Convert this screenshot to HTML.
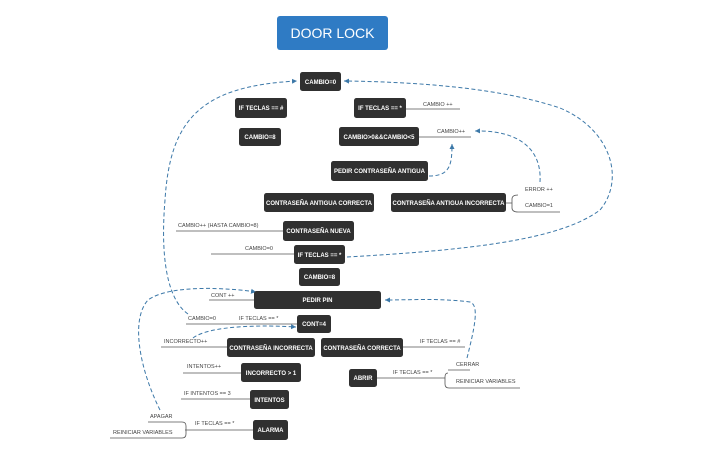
<!DOCTYPE html>
<html><head><meta charset="utf-8"><style>
html,body{margin:0;padding:0;background:#fff;}
svg{display:block;font-family:"Liberation Sans",sans-serif;}
.n{fill:#303030;}
.t{fill:#fff;font-size:6px;font-weight:bold;text-anchor:middle;}
.l{fill:#444;font-size:5.5px;}
.ln{stroke:#555;stroke-width:0.8;fill:none;}
.d{stroke:#3c78a8;stroke-width:1;fill:none;stroke-dasharray:4,2.5;}
</style></head><body>
<svg width="720" height="452" viewBox="0 0 720 452" xmlns="http://www.w3.org/2000/svg">
<defs><marker id="a" markerWidth="6" markerHeight="6" refX="5" refY="3" orient="auto"><path d="M0,0.5 L5,3 L0,5.5z" fill="#3c78a8"/></marker></defs>
<rect x="277" y="16" width="111" height="34" rx="3" fill="#2f7bc4"/>
<text x="332.5" y="38" fill="#fff" font-size="14" text-anchor="middle">DOOR LOCK</text>

<!-- lines -->
<path class="ln" d="M406,109 H460 M419,137 H471 M506,203 H512 M176,231 H283 M211,254 H294 M209,300 H254 M186,324 H297 M161,347 H227 M403,347 H465 M183,373 H241 M377,378 H445 M181,399 H250 M185,430 H253"/>
<path class="ln" d="M518,195 Q512,195 512,199 V208 Q512,212 518,212 H560 M512,203 H512"/>
<path class="ln" d="M448,370 H470 M448,373 Q445,373 445,377 V384 Q445,388 449,388 H520"/>
<path class="ln" d="M148,422 H182 Q186,422 186,426 V434 Q186,438 182,438 H110"/>

<!-- dashed -->
<path class="d" d="M188,314 C168,300 160,260 165,200 C170,120 200,86 297,81" marker-end="url(#a)"/>
<path class="d" d="M347,257 C470,250 560,240 600,210 C625,180 612,130 560,108 C500,88 420,82 344,81" marker-end="url(#a)"/>
<path class="d" d="M160,410 C140,370 130,320 148,300 C170,284 230,288 256,292" marker-end="url(#a)"/>
<path class="d" d="M193,338 C210,325 265,325 296,327" marker-end="url(#a)"/>
<path class="d" d="M467,358 C474,330 480,305 470,302 C440,298 410,300 385,300" marker-end="url(#a)"/>
<path class="d" d="M540,182 C542,150 520,130 475,131" marker-end="url(#a)"/>
<path class="d" d="M429,176 C450,176 452,165 452,144" marker-end="url(#a)"/>

<!-- nodes -->
<rect class="n" x="300" y="72" width="41" height="19" rx="2.5"/><text class="t" x="320.5" y="84">CAMBIO=0</text>
<rect class="n" x="235" y="98" width="52" height="20" rx="2.5"/><text class="t" x="261" y="110">IF TECLAS == #</text>
<rect class="n" x="354" y="98" width="52" height="20" rx="2.5"/><text class="t" x="380" y="110">IF TECLAS == *</text>
<rect class="n" x="239" y="128" width="42" height="18" rx="2.5"/><text class="t" x="260" y="139">CAMBIO=8</text>
<rect class="n" x="339" y="127" width="80" height="19" rx="2.5"/><text class="t" x="379" y="139">CAMBIO&gt;0&amp;&amp;CAMBIO&lt;5</text>
<rect class="n" x="331" y="161" width="97" height="20" rx="2.5"/><text class="t" x="379.5" y="173">PEDIR CONTRASEÑA ANTIGUA</text>
<rect class="n" x="264" y="193" width="110" height="19" rx="2.5"/><text class="t" x="319" y="205">CONTRASEÑA ANTIGUA CORRECTA</text>
<rect class="n" x="391" y="193" width="115" height="19" rx="2.5"/><text class="t" x="448.5" y="205">CONTRASEÑA ANTIGUA INCORRECTA</text>
<rect class="n" x="283" y="221" width="71" height="20" rx="2.5"/><text class="t" x="318.5" y="233">CONTRASEÑA NUEVA</text>
<rect class="n" x="294" y="245" width="51" height="19" rx="2.5"/><text class="t" x="319.5" y="257">IF TECLAS == *</text>
<rect class="n" x="299" y="268" width="41" height="18" rx="2.5"/><text class="t" x="319.5" y="279">CAMBIO=8</text>
<rect class="n" x="254" y="291" width="127" height="18" rx="2.5"/><text class="t" x="317.5" y="302">PEDIR PIN</text>
<rect class="n" x="297" y="315" width="34" height="18" rx="2.5"/><text class="t" x="314" y="326">CONT=4</text>
<rect class="n" x="227" y="338" width="88" height="19" rx="2.5"/><text class="t" x="271" y="350">CONTRASEÑA INCORRECTA</text>
<rect class="n" x="321" y="338" width="82" height="19" rx="2.5"/><text class="t" x="362" y="350">CONTRASEÑA CORRECTA</text>
<rect class="n" x="241" y="363" width="60" height="19" rx="2.5"/><text class="t" x="271" y="375">INCORRECTO &gt; 1</text>
<rect class="n" x="349" y="369" width="28" height="18" rx="2.5"/><text class="t" x="363" y="380">ABRIR</text>
<rect class="n" x="250" y="390" width="39" height="19" rx="2.5"/><text class="t" x="269.5" y="402">INTENTOS</text>
<rect class="n" x="253" y="420" width="35" height="20" rx="2.5"/><text class="t" x="270.5" y="432">ALARMA</text>

<!-- labels -->
<text class="l" x="423" y="106">CAMBIO ++</text>
<text class="l" x="437" y="133">CAMBIO++</text>
<text class="l" x="525" y="191">ERROR ++</text>
<text class="l" x="525" y="207">CAMBIO=1</text>
<text class="l" x="178" y="227">CAMBIO++ (HASTA CAMBIO=8)</text>
<text class="l" x="245" y="250">CAMBIO=0</text>
<text class="l" x="211" y="297">CONT ++</text>
<text class="l" x="188" y="320">CAMBIO=0</text>
<text class="l" x="239" y="320">IF TECLAS == *</text>
<text class="l" x="164" y="343">INCORRECTO++</text>
<text class="l" x="420" y="343">IF TECLAS == #</text>
<text class="l" x="187" y="368">INTENTOS++</text>
<text class="l" x="393" y="374">IF TECLAS == *</text>
<text class="l" x="456" y="366">CERRAR</text>
<text class="l" x="456" y="383">REINICIAR VARIABLES</text>
<text class="l" x="184" y="395">IF INTENTOS == 3</text>
<text class="l" x="195" y="425">IF TECLAS == *</text>
<text class="l" x="150" y="418">APAGAR</text>
<text class="l" x="113" y="434">REINICIAR VARIABLES</text>
</svg>
</body></html>
